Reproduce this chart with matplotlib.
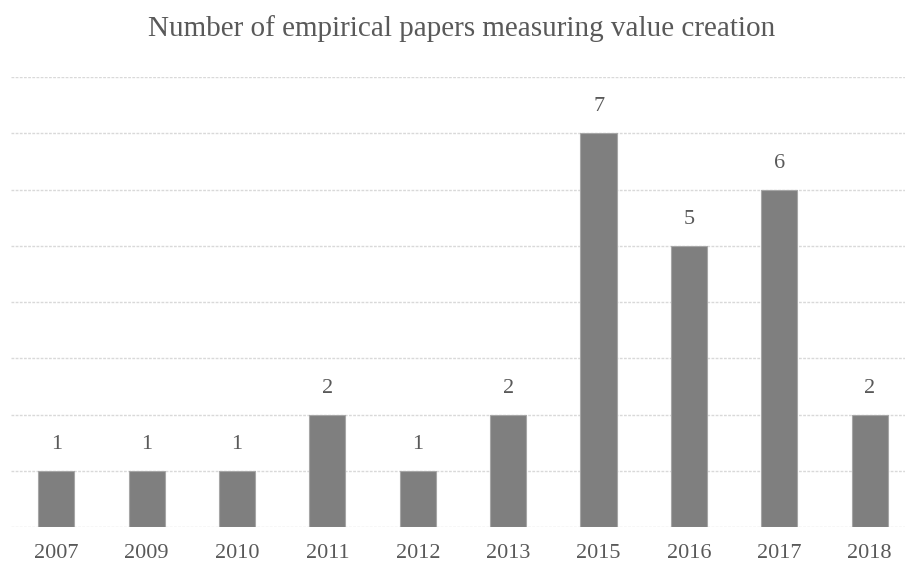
import matplotlib
matplotlib.use('Agg')
import matplotlib.pyplot as plt

# data
years = ['2007', '2009', '2010', '2011', '2012', '2013', '2015', '2016', '2017', '2018']
papers = [1, 1, 1, 2, 1, 2, 7, 5, 6, 2]

plt.rcParams['font.family'] = ['Liberation Serif', 'DejaVu Serif']
txt = '#595959'

fig = plt.figure(figsize=(9.05, 5.72), dpi=100)
ax = fig.add_axes([11/905, 1 - 527/572, 894/905, 450/572])

x = range(len(years))
bars = ax.bar(x, papers, width=0.4, color='#7f7f7f', edgecolor='#a6a6a6', linewidth=0.8, zorder=3)
for b, v in zip(bars, papers):
    ax.text(b.get_x() + b.get_width()/2, v + 0.3, str(v), ha='center', va='bottom',
            fontsize=16, color=txt)

ax.set_xlim(-0.5, 9.39)
ax.set_ylim(0, 8)
ax.set_yticks(range(0, 9))
ax.yaxis.grid(True, color='#d9d9d9', linestyle=(0, (2, 1)), linewidth=1, zorder=0)
ax.tick_params(axis='y', left=False, labelleft=False)
ax.set_xticks(list(x))
ax.set_xticklabels(years)
ax.tick_params(axis='x', bottom=False, labelsize=16, labelcolor=txt, pad=9)
for s in ax.spines.values():
    s.set_visible(False)

fig.text(462/905, 1 - 29/572, 'Number of empirical papers measuring value creation',
         ha='center', va='center', fontsize=21, color=txt)

fig.savefig('out.png', dpi=100)
